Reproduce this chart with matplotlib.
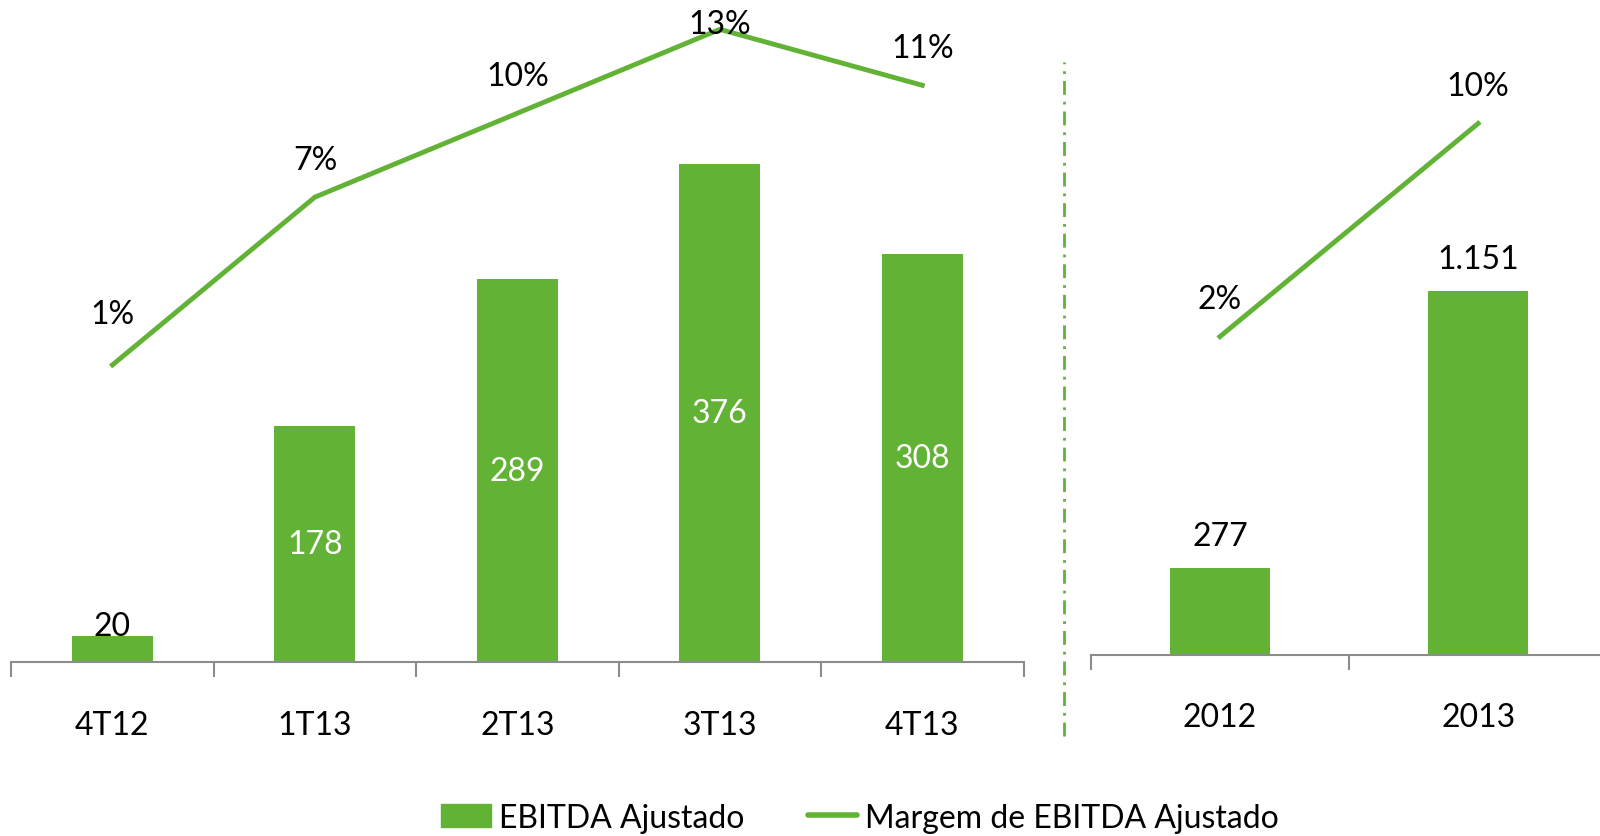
import matplotlib.pyplot as plt
from matplotlib.lines import Line2D
from matplotlib.patches import Patch

plt.rcParams['font.family'] = ['Lato', 'DejaVu Sans']

# quarterly data
quarters = ["4T12", "1T13", "2T13", "3T13", "4T13"]
ebitda_q = [20, 178, 289, 376, 308]
margin_q = [1, 7, 10, 13, 11]

# yearly data
years = ["2012", "2013"]
ebitda_y = [277, 1151]
margin_y = [2, 10]
ebitda_y_labels = ["277", "1.151"]

green = "#62b236"
gray = "#8c8c8c"
fs = 23

fig = plt.figure(figsize=(16, 8.37), dpi=100)


def style_axis(ax):
    for s in ["top", "right", "left"]:
        ax.spines[s].set_visible(False)
    ax.spines["bottom"].set_color(gray)
    ax.spines["bottom"].set_linewidth(1.5)
    ax.set_yticks([])
    ax.tick_params(axis="x", length=0, pad=34, labelsize=fs)


def add_ticks(ax, n):
    # category boundary ticks below the baseline
    ax.set_xticks([i - 0.5 for i in range(n + 1)], minor=True)
    ax.tick_params(axis="x", which="minor", length=11, width=1.5, color=gray, direction="out")


# left panel: quarters
ax1 = fig.add_axes([0.007, 0.2075, 0.6327, 0.7803])
x = range(len(quarters))
ax1.bar(x, ebitda_q, width=0.4, color=green)
ax1.set_xlim(-0.5, len(quarters) - 0.5)
ax1.set_ylim(0, 492.3)
ax1.set_xticks(list(x))
ax1.set_xticklabels(quarters)
style_axis(ax1)
add_ticks(ax1, len(quarters))
for i, v in enumerate(ebitda_q):
    if v < 100:
        ax1.text(i, v - 4, str(v), ha="center", va="bottom", fontsize=fs, color="black")
    else:
        ax1.text(i, v / 2, str(v), ha="center", va="center", fontsize=fs, color="white")

ax1b = ax1.twinx()
ax1b.plot(list(x), margin_q, color=green, lw=3.5, clip_on=False)
ax1b.set_ylim(-9.635, 13.72)
ax1b.axis("off")
for i, v in enumerate(margin_q):
    off = 37 if v < 2 else 27
    if v == max(margin_q):
        off = 4
    ax1b.annotate(f"{v}%", (i, v), xytext=(0, off), textcoords="offset points",
                  ha="center", va="center", fontsize=fs, annotation_clip=False)

# right panel: years
ax2 = fig.add_axes([0.6818, 0.2161, 0.3227, 0.7717])
x2 = range(len(years))
ax2.bar(x2, ebitda_y, width=0.39, color=green)
ax2.set_xlim(-0.5, len(years) - 0.5)
ax2.set_ylim(0, 2042)
ax2.set_xticks(list(x2))
ax2.set_xticklabels(years)
style_axis(ax2)
add_ticks(ax2, len(years))
for i, v in enumerate(ebitda_y):
    ax2.annotate(ebitda_y_labels[i], (i, v), xytext=(0, 12), textcoords="offset points",
                 ha="center", va="bottom", fontsize=fs)

ax2b = ax2.twinx()
ax2b.plot(list(x2), margin_y, color=green, lw=3.5, clip_on=False)
ax2b.set_ylim(-9.96, 14.29)
ax2b.axis("off")
for i, v in enumerate(margin_y):
    ax2b.annotate(f"{v}%", (i, v), xytext=(0, 27), textcoords="offset points",
                  ha="center", va="center", fontsize=fs, annotation_clip=False)

# separator between panels
fig.add_artist(Line2D([0.665, 0.665], [0.12, 0.925], transform=fig.transFigure,
                      color=green, lw=2, linestyle=(0, (5, 2.5, 1, 2.5))))

handles = [Patch(color=green), Line2D([], [], color=green, lw=4, solid_capstyle="round")]
fig.legend(handles, ["EBITDA Ajustado", "Margem de EBITDA Ajustado"],
           loc="center", bbox_to_anchor=(0.5376, 0.022), ncol=2, frameon=False,
           fontsize=fs, handlelength=1.55, handleheight=0.75, handletextpad=0.25,
           columnspacing=2.0)

fig.savefig("out.png", dpi=100)
